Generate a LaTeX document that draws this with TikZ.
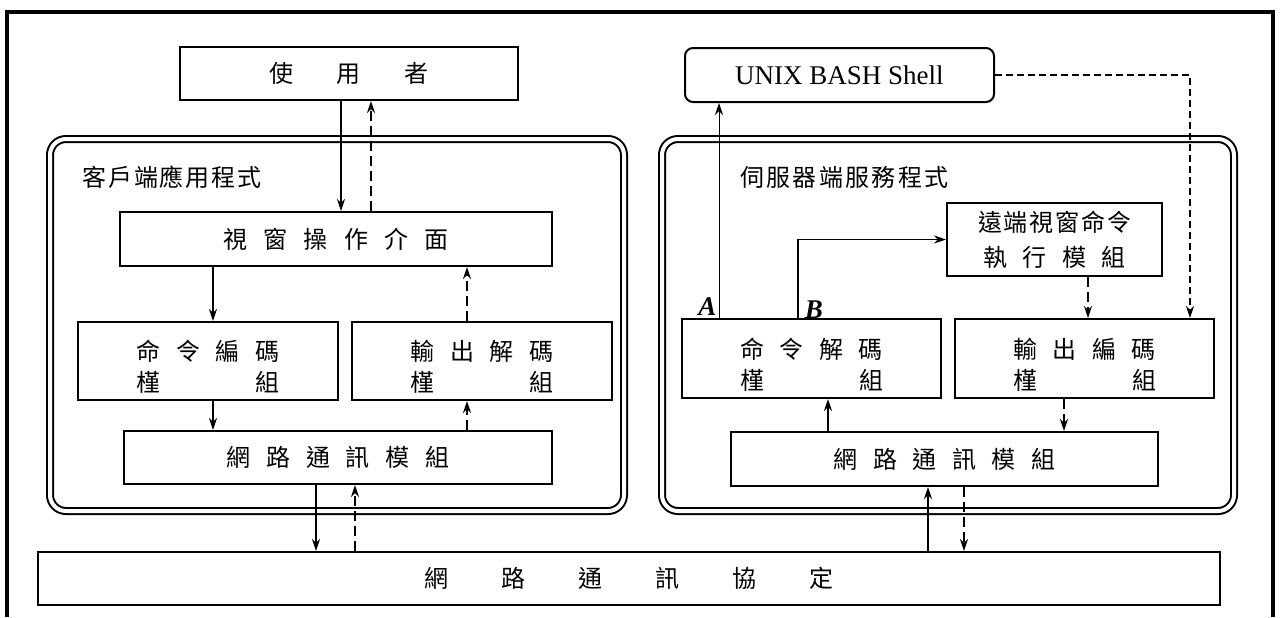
\documentclass[tikz,border=0pt]{standalone}
\usepackage{fontspec}
\setmainfont{Liberation Serif}
\newfontfamily\cjk{Noto Sans CJK TC}
\usepackage{tikz}
\usetikzlibrary{arrows.meta, positioning}
\tikzset{
  modbox/.style={rectangle, draw, line width=1pt, inner sep=0pt,
    align=center, font=\cjk\fontsize{12pt}{15.5pt}\selectfont},
  shellbox/.style={modbox, rounded corners=4pt,
    font=\fontsize{13.5pt}{15pt}\selectfont},
  progframe/.style={rectangle, draw, double, double distance=2pt,
    line width=1pt, rounded corners=8pt},
  progname/.style={anchor=west, inner sep=0pt,
    font=\cjk\fontsize{12pt}{13pt}\selectfont},
  tag/.style={inner sep=1pt, font=\fontsize{13.5pt}{15pt}\selectfont\bfseries\itshape},
  arrow/.style={-{Stealth[length=6pt, width=4pt]}, line width=0.9pt},
  dasharrow/.style={arrow, dash pattern=on 5pt off 2.5pt},
  frame/.style={line width=1.6pt}
}

\begin{document}
\begin{tikzpicture}[x=0.5pt, y=-0.5pt, node distance=6pt]
  \useasboundingbox (0,0) rectangle (1282,617);
  \draw[frame] (7,617) |- (1273,12) -- (1273,617);

  % program frames
  \node[progframe, minimum width=287pt, minimum height=186pt] (client) at (337,325) {};
  \node[progframe, minimum width=286pt, minimum height=186pt] (server) at (948,325) {};
  \node[progname] (clientname) at (82,177) {\makebox[89.5pt]{客\hfill 戶\hfill 端\hfill 應\hfill 用\hfill 程\hfill 式}};
  \node[progname] (servername) at (740,177) {\makebox[104pt]{伺\hfill 服\hfill 器\hfill 端\hfill 服\hfill 務\hfill 程\hfill 式}};

  % client side
  \node[modbox, minimum width=169pt, minimum height=26.5pt] (user) at (349,73.5)
    {\makebox[80pt]{使\hfill 用\hfill 者}};
  \node[modbox, minimum width=216pt, minimum height=27pt] (win) at (336,239)
    {\makebox[112.5pt]{視\hfill 窗\hfill 操\hfill 作\hfill 介\hfill 面}};
  \node[modbox, minimum width=130pt, minimum height=39pt] (enc) at (208,361)
    {\rule{0pt}{16pt}\makebox[71.5pt]{命\hfill 令\hfill 編\hfill 碼}\\\makebox[71.5pt]{槿\hfill 組}};
  \node[modbox, minimum width=130pt, minimum height=39pt, right=of enc] (dec)
    {\rule{0pt}{16pt}\makebox[71.5pt]{輸\hfill 出\hfill 解\hfill 碼}\\\makebox[71.5pt]{槿\hfill 組}};
  \node[modbox, minimum width=214pt, minimum height=26.5pt] (cnet) at (338,457.5)
    {\makebox[111.5pt]{網\hfill 路\hfill 通\hfill 訊\hfill 模\hfill 組}};

  % server side
  \node[shellbox, minimum width=154.5pt, minimum height=27pt] (shell) at (839.5,75) {UNIX BASH Shell};
  \node[modbox, minimum width=107.5pt, minimum height=36.5pt] (remote) at (1054.5,239.5)
    {\makebox[76.5pt]{遠\hfill 端\hfill 視\hfill 窗\hfill 命\hfill 令}\\[2pt]\makebox[71pt]{執\hfill 行\hfill 模\hfill 組}};
  \node[modbox, minimum width=129.5pt, minimum height=39.5pt] (sdec) at (811.5,358.5)
    {\rule{0pt}{16pt}\makebox[71.5pt]{命\hfill 令\hfill 解\hfill 碼}\\\makebox[71.5pt]{槿\hfill 組}};
  \node[modbox, minimum width=129.5pt, minimum height=39.5pt, right=of sdec] (senc)
    {\rule{0pt}{16pt}\makebox[71.5pt]{輸\hfill 出\hfill 編\hfill 碼}\\\makebox[71.5pt]{槿\hfill 組}};
  \node[modbox, minimum width=213.5pt, minimum height=27pt] (snet) at (944.5,459)
    {\makebox[111pt]{網\hfill 路\hfill 通\hfill 訊\hfill 模\hfill 組}};

  % protocol
  \node[modbox, minimum width=591pt, minimum height=26.5pt] (proto) at (629,578.5)
    {\makebox[204.5pt]{網\hfill 路\hfill 通\hfill 訊\hfill 協\hfill 定}};

  % client arrows
  \draw[arrow] ([xshift=-4pt]user.south) -- ([xshift=-4pt]user.south |- win.north);
  \draw[dasharrow] ([xshift=11pt]user.south |- win.north) -- ([xshift=11pt]user.south);
  \draw[arrow] ([xshift=2.5pt]enc.north |- win.south) -- ([xshift=2.5pt]enc.north);
  \draw[dasharrow] ([xshift=-7.5pt]dec.north) -- ([xshift=-7.5pt]dec.north |- win.south);
  \draw[arrow] ([xshift=2.5pt]enc.south) -- ([xshift=2.5pt]enc.south |- cnet.north);
  \draw[dasharrow] ([xshift=-7.5pt]dec.south |- cnet.north) -- ([xshift=-7.5pt]dec.south);
  \draw[arrow] ([xshift=-11pt]cnet.south) -- ([xshift=-11pt]cnet.south |- proto.north);
  \draw[dasharrow] ([xshift=8.5pt]cnet.south |- proto.north) -- ([xshift=8.5pt]cnet.south);

  % server arrows
  \draw[arrow, line width=0.5pt] ([xshift=19pt]sdec.north west)
    node[tag, anchor=south east] {A} -- ([xshift=19pt]sdec.north west |- shell.south);
  \draw[arrow] ([xshift=58.5pt]sdec.north west)
    node[tag, anchor=south west, xshift=2pt, yshift=-1.5pt] {B} |- (remote.west);
  \draw[dasharrow, dash pattern=on 3.5pt off 2pt] (shell.east) -| ([xshift=52.75pt]senc.north);
  \draw[dasharrow] ([xshift=16.75pt]remote.south) -- ([xshift=16.75pt]remote.south |- senc.north);
  \draw[arrow] ([xshift=8.25pt]sdec.south |- snet.north) -- ([xshift=8.25pt]sdec.south);
  \draw[dasharrow] ([xshift=-10.25pt]senc.south) -- ([xshift=-10.25pt]senc.south |- snet.north);
  \draw[arrow] ([xshift=-8.25pt]snet.south |- proto.north) -- ([xshift=-8.25pt]snet.south);
  \draw[dasharrow] ([xshift=9.75pt]snet.south) -- ([xshift=9.75pt]snet.south |- proto.north);
\end{tikzpicture}
\end{document}
